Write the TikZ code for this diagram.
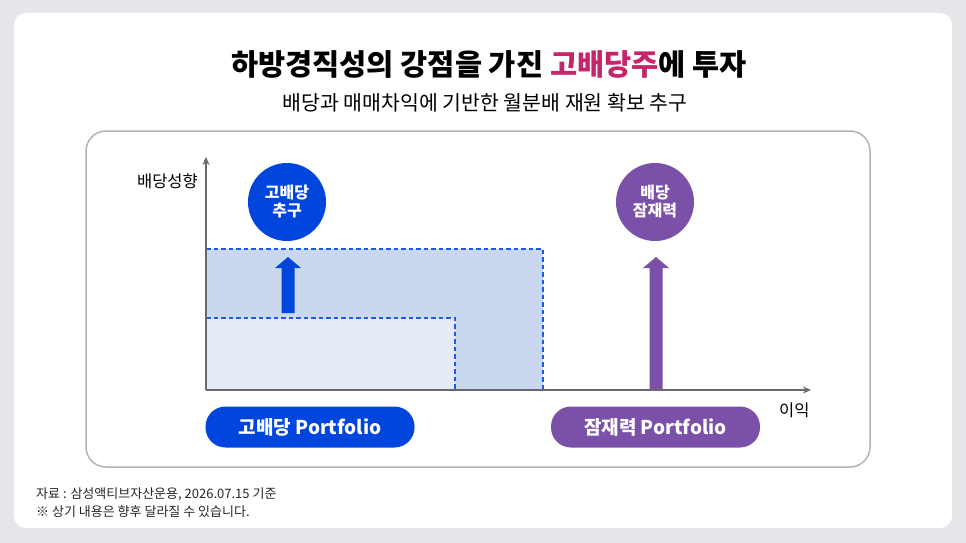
\documentclass[tikz,border=0pt]{standalone}
\usepackage{fontspec}
\setmainfont{Noto Sans CJK KR}
\newfontfamily\kr{Noto Sans CJK KR}
\usetikzlibrary{arrows.meta}
\definecolor{bgc}{HTML}{E6E6EA}
\definecolor{bluec}{HTML}{0046DC}
\definecolor{purc}{HTML}{7A50A8}
\definecolor{pinkc}{HTML}{C8246C}
\definecolor{rectA}{HTML}{C9D8EE}
\definecolor{rectB}{HTML}{E4EAF6}
\definecolor{dashc}{HTML}{1A5AE6}
\definecolor{axisc}{HTML}{6A6A6A}
\definecolor{framec}{HTML}{B4B4B4}
\begin{document}
\begin{tikzpicture}[x=1pt,y=-1pt,
  dashline/.style={draw=dashc,line width=1.6pt,dash pattern=on 4.5pt off 3pt},
  axisline/.style={draw=axisc,line width=1.3pt,-{Stealth[length=8pt,width=7pt]}},
  circ/.style={circle,minimum size=78pt,inner sep=0pt,text=white,font=\kr\fontsize{16}{18}\selectfont\bfseries,align=center},
  pill/.style={rounded corners=20pt,minimum width=209pt,minimum height=41pt,inner sep=0pt,text=white,font=\kr\fontsize{19}{22}\selectfont\bfseries},
  lbl/.style={font=\kr\fontsize{16.5}{18}\selectfont,text=black,inner sep=0pt},
  foot/.style={font=\kr\fontsize{13}{15}\selectfont,text=black!85,inner sep=0pt,anchor=west}]
\fill[bgc] (0,0) rectangle (966,543);
\fill[white,rounded corners=12pt] (14,13) rectangle (952,528);
\draw[framec,line width=1.5pt,rounded corners=20pt] (86,131) rectangle (870,467);
% title
\node[font=\kr\fontsize{29.5}{34}\selectfont\bfseries,inner sep=0pt] (title) at (489,64) {하방경직성의 강점을 가진 \textcolor{pinkc}{고배당주}에 투자};
\node[font=\kr\fontsize{20.5}{24}\selectfont,inner sep=0pt] (sub) at (485,103) {배당과 매매차익에 기반한 월분배 재원 확보 추구};
% rectangles
\fill[rectA] (206,249) rectangle (543,390);
\fill[rectB] (206,318) rectangle (455,390);
\draw[dashline] (206,249) -- (543,249) -- (543,390);
\draw[dashline] (206,318) -- (455,318) -- (455,390);
% axes
\coordinate (o) at (206,390);
\coordinate (ytip) at (206,157);
\coordinate (xtip) at (811,390);
\draw[axisline] (o) -- (ytip);
\draw[axisline] (o) -- (xtip);
\node[lbl,anchor=east] (ylab) at (198,181) {배당성향};
\node[lbl,anchor=west] (xlab) at (779,410) {이익};
% circles
\node[circ,fill=bluec] (c1) at (287,202) {고배당\\추구};
\node[circ,fill=purc] (c2) at (655,202) {배당\\잠재력};
% arrows
\fill[bluec] (281.5,313) -- (294.5,313) -- (294.5,268) -- (301,268) -- (288,257) -- (275,268) -- (281.5,268) -- cycle;
\fill[purc] (649.5,389) -- (662.5,389) -- (662.5,268) -- (669,268) -- (656,257) -- (643,268) -- (649.5,268) -- cycle;
% pills
\node[pill,fill=bluec] (p1) at (310,427) {고배당 Portfolio};
\node[pill,fill=purc] (p2) at (655.5,427) {잠재력 Portfolio};
% footnotes
\node[foot] (f1) at (36,494) {자료 : 삼성액티브자산운용, 2026.07.15 기준};
\node[foot] (f2) at (36,512) {※ 상기 내용은 향후 달라질 수 있습니다.};
\end{tikzpicture}
\end{document}
